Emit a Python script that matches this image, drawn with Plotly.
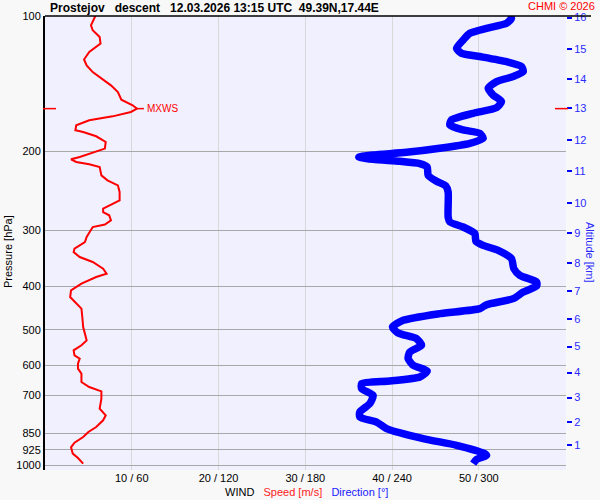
import math
import plotly.graph_objects as go

TITLE = "Prostejov\u00a0\u00a0\u00a0descent\u00a0\u00a0\u00a012.03.2026 13:15 UTC\u00a0\u00a049.39N,17.44E"
COPYRIGHT = "CHMI © 2026"

# wind speed profile (pressure hPa, speed m/s)
speed_pres = [100.0, 104.9, 107.6, 111.4, 115.2, 120.3, 125.0, 128.8, 133.3, 137.9,
              142.7, 147.7, 153.6, 158.1, 160.8, 163.6, 167.3, 170.7, 175.2, 179.7,
              181.3, 185.3, 190.8, 197.4, 201.9, 206.1, 208.5, 211.4, 213.9, 216.9,
              226.4, 232.3, 238.3, 246.6, 257.3, 261.7, 268.5, 273.3, 277.9, 285.1,
              291.4, 295.1, 310.6, 318.7, 329.6, 335.5, 344.2, 353.1, 365.3, 374.8,
              381.4, 394.5, 408.3, 422.6, 437.1, 448.5, 468.2, 492.9, 509.8, 527.7,
              541.3, 555.4, 569.9, 579.4, 594.5, 610.0, 625.8, 653.3, 670.4, 685.4,
              711.5, 748.9, 775.0, 795.1, 823.0, 844.4, 866.3, 891.6, 913.2, 943.1,
              964.7, 992.9]
speed = [5.8, 5.3, 5.5, 6.3, 6.4, 5.1, 4.5, 4.8, 5.5, 6.5,
         7.6, 8.4, 8.8, 10.1, 10.6, 9.9, 7.8, 5.1, 3.6, 3.5,
         4.4, 5.9, 7.0, 6.9, 5.5, 4.0, 3.0, 3.6, 5.1, 6.3,
         6.5, 7.2, 8.4, 8.6, 8.6, 7.8, 6.7, 6.7, 7.4, 7.6,
         6.9, 5.5, 4.8, 4.6, 3.4, 3.3, 4.0, 5.5, 6.7, 7.1,
         5.9, 4.2, 3.0, 2.9, 3.6, 4.2, 4.3, 4.4, 4.6, 4.8,
         4.2, 3.3, 3.4, 4.0, 3.8, 3.8, 4.2, 4.2, 5.1, 6.5,
         6.5, 6.3, 7.0, 6.7, 5.9, 5.0, 4.4, 3.4, 3.0, 3.2,
         3.8, 4.4]

# wind direction profile (pressure hPa, direction deg)
dir_pres = [100.0, 101.2, 103.8, 106.5, 109.3, 113.1, 118.0, 121.1, 123.1, 126.4,
            129.6, 133.0, 136.4, 140.0, 144.9, 150.0, 155.1, 160.0, 164.7, 170.4,
            174.9, 179.4, 182.5, 187.3, 192.1, 197.1, 201.2, 204.0, 206.1, 208.5,
            210.6, 213.1, 216.9, 226.4, 233.4, 239.1, 246.6, 280.4, 287.6, 295.1,
            305.2, 317.6, 324.2, 332.5, 347.0, 365.3, 378.1, 391.3, 399.4, 411.9,
            426.1, 439.4, 448.5, 460.1, 476.1, 492.9, 508.2, 523.1, 541.3, 560.3,
            579.4, 599.8, 617.5, 636.8, 650.1, 658.9, 676.0, 699.7, 730.0, 762.1,
            781.8, 802.3, 829.8, 873.5, 903.8, 940.4, 951.5, 972.7, 992.9]
direction = [320.3, 322.6, 319.2, 305.4, 293.8, 289.2, 284.6, 288.1, 300.7, 319.2,
             329.6, 330.7, 323.8, 312.3, 306.5, 309.9, 315.7, 312.3, 296.1, 281.1,
             280.0, 289.2, 300.7, 303.0, 293.8, 273.0, 250.0, 226.9, 217.0, 226.9,
             245.4, 259.2, 264.3, 265.0, 270.8, 277.2, 278.8, 278.8, 280.0, 289.2,
             297.3, 298.0, 303.0, 313.4, 322.6, 324.2, 328.4, 340.0, 340.0, 330.7,
             323.8, 305.4, 300.7, 273.0, 247.7, 240.3, 244.2, 256.9, 260.4, 252.3,
             251.1, 254.6, 264.3, 259.2, 238.5, 219.0, 219.0, 226.9, 224.6, 217.7,
             217.7, 229.3, 236.2, 261.5, 284.6, 303.0, 305.4, 298.4, 296.1]

pressure_ticks = [100, 200, 300, 400, 500, 600, 700, 850, 925, 1000]
speed_ticks = [10, 20, 30, 40, 50, 60]
dir_ticks = [60, 120, 180, 240, 300, 360]
alt_km = [1, 2, 3, 4, 5, 6, 7, 8, 9, 10, 11, 12, 13, 14, 15, 16]
alt_pres = [903.8, 802.3, 707.7, 622.5, 544.9, 473.7, 410.4, 354.9,
            304.8, 261.3, 221.4, 189.2, 160.5, 138.1, 118.6, 100.8]

FONT = "Liberation Sans, Arial, sans-serif"
RED = "#ff0000"
BLUE = "#0000ff"

# layout geometry
W, H = 600, 500
ML, MR, MT, MB = 45, 34, 16, 30
PW, PH = W - ML - MR, H - MT - MB
Y_TOP = 2.0
Y_BOT = 2.0 + PH / 449.0   # 449 px per pressure decade


def ypaper(p):
    return (Y_BOT - math.log10(p)) / (Y_BOT - Y_TOP)


def xpaper(px):
    return (px - ML) / PW


imax = speed.index(max(speed))
p_max, s_max = speed_pres[imax], speed[imax]

fig = go.Figure()
fig.add_trace(go.Scatter(x=speed, y=speed_pres, mode="lines",
                         line=dict(color=RED, width=2), hoverinfo="skip",
                         showlegend=False))
fig.add_trace(go.Scatter(x=direction, y=dir_pres, mode="lines",
                         line=dict(color=BLUE, width=7.5, shape="spline", smoothing=0.6),
                         xaxis="x2", yaxis="y2", hoverinfo="skip", showlegend=False))

fig.update_layout(
    width=W, height=H,
    margin=dict(l=ML, r=MR, t=MT, b=MB, autoexpand=False),
    paper_bgcolor="#f8f8f8",
    plot_bgcolor="#f0f0ff",
    font=dict(family=FONT, size=11, color="black"),
    xaxis=dict(range=[0, 60.05], tickvals=speed_ticks,
               ticktext=[f"{s} / {d}" if s < 60 else "" for s, d in zip(speed_ticks, dir_ticks)],
               showgrid=True, gridcolor="#d8d8d8", gridwidth=1, zeroline=False,
               showline=False, ticks="", tickfont=dict(size=11)),
    xaxis2=dict(range=[0, 360.3], overlaying="x", visible=False, anchor="y2"),
    yaxis=dict(type="log", range=[Y_BOT, Y_TOP], tickvals=pressure_ticks,
               ticktext=[str(p) for p in pressure_ticks],
               showgrid=True, gridcolor="#a8a8a8", gridwidth=1, zeroline=False,
               showline=True, linecolor="black", linewidth=2, ticks="",
               tickfont=dict(size=11)),
    yaxis2=dict(type="log", range=[Y_BOT, Y_TOP], overlaying="y", side="right",
                anchor="x2", tickvals=alt_pres, ticktext=[str(a) for a in alt_km],
                showgrid=False, zeroline=False, showline=False,
                ticks="outside", ticklen=5, tickwidth=1.5, tickcolor=BLUE,
                tickfont=dict(size=11, color="#2a2aff")),
)

fig.add_shape(type="line", xref="paper", yref="paper", x0=0, x1=xpaper(591),
              y0=1, y1=1, line=dict(color="black", width=1.5))
# max wind marks
fig.add_shape(type="line", xref="paper", yref="paper", x0=xpaper(43), x1=xpaper(56),
              y0=ypaper(p_max), y1=ypaper(p_max), line=dict(color=RED, width=1.5))
fig.add_shape(type="line", xref="paper", yref="paper", x0=xpaper(555), x1=xpaper(568),
              y0=ypaper(p_max), y1=ypaper(p_max), line=dict(color=RED, width=1.5))
fig.add_shape(type="line", xref="x", yref="paper", x0=s_max, x1=s_max + 0.8,
              y0=ypaper(p_max), y1=ypaper(p_max), line=dict(color=RED, width=1.5))
fig.add_annotation(text="MXWS", xref="x", yref="paper", x=s_max + 0.8, y=ypaper(p_max),
                   xanchor="left", yanchor="middle", xshift=1, showarrow=False,
                   font=dict(size=10, color=RED))

fig.add_annotation(text="<b>" + TITLE + "</b>", xref="paper", yref="paper",
                   x=0, y=1, xanchor="left", yanchor="bottom", xshift=3, yshift=-1,
                   showarrow=False, font=dict(size=12, color="black"))
fig.add_annotation(text=COPYRIGHT, xref="paper", yref="paper", x=xpaper(597), y=1,
                   xanchor="right", yanchor="bottom", yshift=2, showarrow=False,
                   font=dict(size=11, color=RED))
fig.add_annotation(
    text="WIND\u00a0\u00a0\u00a0<span style='color:#ff2020'>Speed [m/s]</span>"
         "\u00a0\u00a0\u00a0<span style='color:#2020ff'>Direction [°]</span>",
    xref="paper", yref="paper", x=xpaper(306.5), y=-(492 - (H - MB)) / PH,
    xanchor="center", yanchor="middle", showarrow=False, font=dict(size=11, color="black"))
fig.add_annotation(text="Pressure [hPa]", xref="paper", yref="paper",
                   x=xpaper(8), y=(H - MB - 252) / PH, textangle=-90,
                   xanchor="center", yanchor="middle", showarrow=False,
                   font=dict(size=11, color="black"))
fig.add_annotation(text="Altitude [km]", xref="paper", yref="paper",
                   x=xpaper(590), y=(H - MB - 252) / PH, textangle=90,
                   xanchor="center", yanchor="middle", showarrow=False,
                   font=dict(size=11, color="#2a2aff"))

# page body has a default margin; drop it so the 600x500 figure fills the window
fig.write_html("out.html", config={"displayModeBar": False},
               post_script="document.body.style.margin='0';document.body.style.overflow='hidden';")
